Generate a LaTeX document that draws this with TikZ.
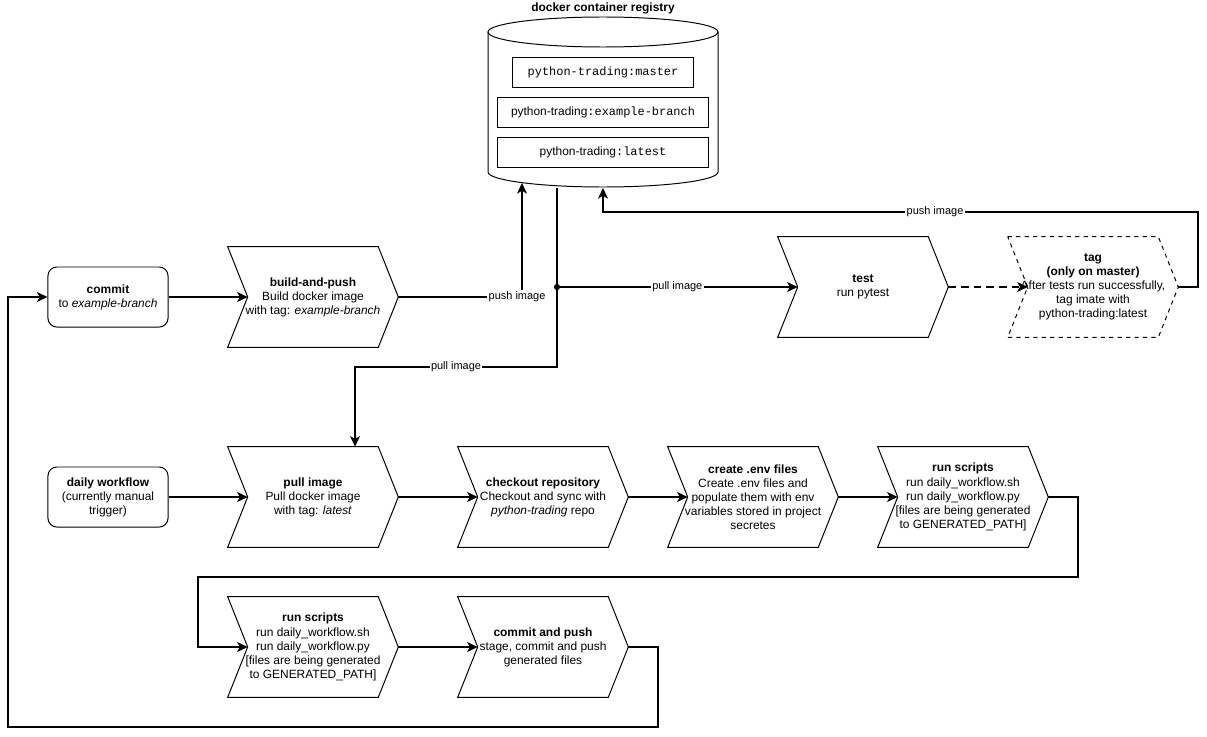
\documentclass[tikz,border=0pt]{standalone}
\usepackage{fontspec}
\setmainfont{Liberation Sans}
\setmonofont{Liberation Mono}
\usetikzlibrary{arrows.meta}

\tikzset{
  conn/.style={line width=1.4pt,-{Stealth[length=7.5pt,width=7pt,inset=2pt]}},
  lbl/.style={fill=white,inner sep=1pt,font=\fontsize{7.8pt}{9pt}\selectfont},
  txt/.style={font=\fontsize{8.5pt}{10pt}\selectfont,align=center},
  startbox/.style={txt,draw,line width=0.7pt,rounded corners=0.22cm,minimum width=3cm,minimum height=1.5cm},
  tagbox/.style={txt,draw,line width=0.7pt,minimum height=0.75cm,inner sep=0pt},
  stepbox/.style={txt,minimum width=4.25cm,minimum height=2.5cm,inner sep=0pt,
    append after command={\pgfextra{\draw[line width=0.7pt,#1] (\tikzlastnode.north west)
      -- ([xshift=-.5cm]\tikzlastnode.north east) -- (\tikzlastnode.east)
      -- ([xshift=-.5cm]\tikzlastnode.south east) -- (\tikzlastnode.south west)
      -- ([xshift=.5cm]\tikzlastnode.west) -- cycle;}}},
  stepbox/.default={solid},
}

\begin{document}
\begin{tikzpicture}[x=0.025cm,y=-0.025cm]
\useasboundingbox (0,0) rectangle (1207,736);

% registry
\node[txt,font=\fontsize{8.5pt}{10pt}\selectfont\bfseries] (title) at (603,8) {docker container registry};
\node[minimum width=5.75cm,minimum height=4.25cm] (registry) at (603,102) {};
\draw[line width=0.7pt] (603,32) ellipse[x radius=2.875cm,y radius=0.375cm];
\draw[line width=0.7pt] (488,32) -- (488,172) arc[start angle=180,end angle=360,x radius=2.875cm,y radius=0.375cm] -- (718,32);
\node[tagbox,minimum width=4.5cm] (master) at (603,72) {\ttfamily python-trading:master};
\node[tagbox,minimum width=5.25cm] (branch) at (603,112) {python-trading\texttt{:example-branch}};
\node[tagbox,minimum width=5.25cm] (latest) at (603,152) {python-trading\texttt{:latest}};
\coordinate (pushin) at (522,183);
\coordinate (pullout) at (557,188);
\coordinate (tagin) at (603,188);
\coordinate (fork) at (557,287);

% build row
\node[startbox] (commit) at (108,297) {\textbf{commit}\\to \textit{example-branch}};
\node[stepbox] (build) at (313,297) {\textbf{build-and-push}\\Build docker image\\with tag: \textit{example-branch}};
\node[stepbox] (test) at (863,287) {\textbf{test}\\run pytest};
\node[stepbox=dashed] (tag) at (1093,287) {\textbf{tag}\\\textbf{(only on master)}\\After tests run successfully,\\tag imate with\\python-trading:latest};

% daily row
\node[startbox] (daily) at (108,497) {\textbf{daily workflow}\\(currently manual\\trigger)};
\node[stepbox] (pull) at (313,497) {\textbf{pull image}\\Pull docker image\\with tag: \textit{latest}};
\node[stepbox] (checkout) at (543,497) {\textbf{checkout repository}\\Checkout and sync with\\\textit{python-trading} repo};
\node[stepbox] (env) at (753,497) {\textbf{create .env files}\\Create .env files and\\populate them with env\\variables stored in project\\secretes};
\node[stepbox] (run) at (963,497) {\textbf{run scripts}\\run daily\_workflow.sh\\run daily\_workflow.py\\{[}files are being generated\\to GENERATED\_PATH{]}};
\node[stepbox] (rerun) at (313,647) {\textbf{run scripts}\\run daily\_workflow.sh\\run daily\_workflow.py\\{[}files are being generated\\to GENERATED\_PATH{]}};
\node[stepbox] (push) at (543,647) {\textbf{commit and push}\\stage, commit and push\\generated files};

% connectors
\draw[conn] (commit.east) -- ([xshift=.5cm]build.west);
\draw[conn] (build.east) -- node[lbl,pos=0.96]{push image} (build.east -| pushin) -- (pushin);
\draw[conn] (pullout) -- (557,367) -- node[lbl]{pull image} (355,367) -- ([xshift=1.05cm]pull.north);
\fill (fork) circle[radius=2.2pt];
\draw[conn] (fork) -- node[lbl]{pull image} ([xshift=.5cm]test.west);
\draw[conn,dash pattern=on 5.5pt off 3.5pt] (test.east) -- ([xshift=.5cm]tag.west);
\draw[conn] (tag.east) -- (1198,287) -- (1198,212) -- node[lbl,pos=0.442]{push image} (603,212) -- (tagin);

\draw[conn] (daily.east) -- ([xshift=.5cm]pull.west);
\draw[conn] (pull.east) -- ([xshift=.5cm]checkout.west);
\draw[conn] (checkout.east) -- ([xshift=.5cm]env.west);
\draw[conn] (env.east) -- ([xshift=.5cm]run.west);
\draw[conn] (run.east) -- (1078,497) -- (1078,577) -- (198,577) -- (198,647) -- ([xshift=.5cm]rerun.west);
\draw[conn] (rerun.east) -- ([xshift=.5cm]push.west);
\draw[conn] (push.east) -- (658,647) -- (658,727) -- (8,727) -- (8,297) -- (commit.west);
\end{tikzpicture}
\end{document}
